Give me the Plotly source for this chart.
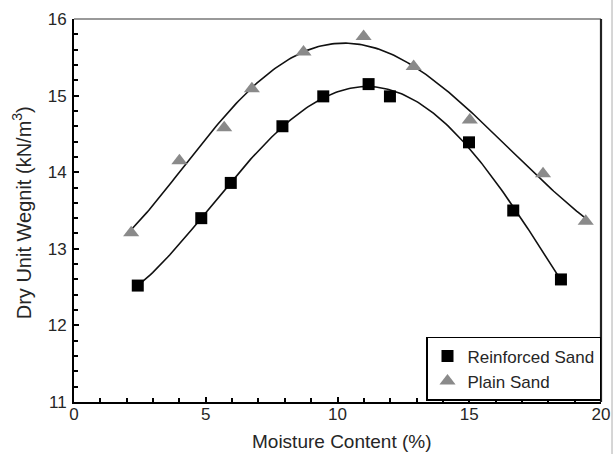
import numpy as np
import plotly.graph_objects as go

# Compaction test results: moisture content (%) vs dry unit weight (kN/m^3)
reinforced_moisture = [2.42, 4.83, 5.95, 7.91, 9.46, 11.18, 11.99, 14.99, 16.67, 18.48]
reinforced_weight = [12.52, 13.40, 13.86, 14.60, 14.99, 15.15, 14.99, 14.39, 13.50, 12.60]

plain_moisture = [2.17, 4.00, 5.70, 6.75, 8.71, 10.99, 12.89, 15.02, 17.80, 19.42]
plain_weight = [13.21, 14.15, 14.58, 15.09, 15.57, 15.77, 15.38, 14.68, 13.98, 13.36]

x_range = [0, 20]
y_range = [11, 16]
x_ticks = [0, 5, 10, 15, 20]
y_ticks = [11, 12, 13, 14, 15, 16]

x_title = "Moisture Content (%)"
y_title = "Dry Unit Wegnit (kN/m<sup>3</sup>)"

FONT = "Liberation Sans, Arial, sans-serif"
TEXT = "#262626"


def fitted_curve(x, y, degree, n=200):
    coeffs = np.polyfit(x, y, degree)
    xs = np.linspace(min(x), max(x), n)
    return xs, np.polyval(coeffs, xs)


fig = go.Figure()

# smooth compaction curves (not in legend)
for xs_data, ys_data, deg in [(plain_moisture, plain_weight, 5),
                              (reinforced_moisture, reinforced_weight, 4)]:
    xs, ys = fitted_curve(xs_data, ys_data, deg)
    fig.add_trace(go.Scatter(x=xs, y=ys, mode="lines",
                             line=dict(color="#111111", width=1.6),
                             showlegend=False, hoverinfo="skip"))

fig.add_trace(go.Scatter(
    x=reinforced_moisture, y=reinforced_weight, mode="markers",
    name="Reinforced Sand",
    marker=dict(symbol="square", size=12, color="#000000"),
))
fig.add_trace(go.Scatter(
    x=plain_moisture, y=plain_weight, mode="markers",
    name="Plain Sand",
    marker=dict(symbol="triangle-up", size=14, color="#8a8a8a"),
))

axis_common = dict(
    showgrid=False, zeroline=False, automargin=False,
    showline=True, linecolor="#000000", linewidth=2,
    ticks="inside", ticklen=5, tickwidth=1.5, tickcolor="#000000",
    tickfont=dict(family=FONT, size=17, color=TEXT),
    mirror=False,
)

fig.update_xaxes(
    range=x_range, tickvals=x_ticks, ticktext=[str(v) for v in x_ticks],
    minor=dict(dtick=1, ticks="inside", ticklen=4, tickwidth=1.5, tickcolor="#000000"),
    ticklabelstandoff=-4,
    **axis_common,
)
fig.update_yaxes(
    range=y_range, tickvals=y_ticks, ticktext=[str(v) for v in y_ticks],
    minor=dict(dtick=0.2, ticks="inside", ticklen=4, tickwidth=1.5, tickcolor="#000000"),
    ticklabelstandoff=2,
    **axis_common,
)

# axis titles
fig.add_annotation(text=x_title, xref="paper", yref="paper", x=0.508, y=-0.104,
                   xanchor="center", yanchor="middle", showarrow=False,
                   font=dict(family=FONT, size=19, color=TEXT))
fig.add_annotation(text=y_title, xref="paper", yref="paper", x=-0.099, y=0.495,
                   xanchor="center", yanchor="middle", showarrow=False, textangle=-90,
                   font=dict(family=FONT, size=20, color=TEXT))

# frame: thin grey top edge, dark right edge
fig.add_shape(type="line", xref="paper", yref="paper", x0=0, x1=1, y0=1, y1=1,
              line=dict(color="#777777", width=1.5))
fig.add_shape(type="line", xref="paper", yref="paper", x0=1, x1=1, y0=0, y1=1,
              line=dict(color="#222222", width=2.2))
# faint rule along the right edge of the page
fig.add_shape(type="line", xref="paper", yref="paper", x0=1.0209, x1=1.0209, y0=-0.2, y1=1.1,
              line=dict(color="#bbbbbb", width=1.2))

fig.update_layout(
    width=614, height=454,
    margin=dict(l=74, r=13, t=19, b=52),
    paper_bgcolor="#ffffff", plot_bgcolor="#ffffff",
    showlegend=True,
    legend=dict(
        x=1, xanchor="right", y=0.17, yanchor="top",
        bgcolor="#ffffff", bordercolor="#000000", borderwidth=1.5,
        font=dict(family=FONT, size=17, color=TEXT),
        itemwidth=30, tracegroupgap=0,
    ),
)

fig.write_html("out.html")
